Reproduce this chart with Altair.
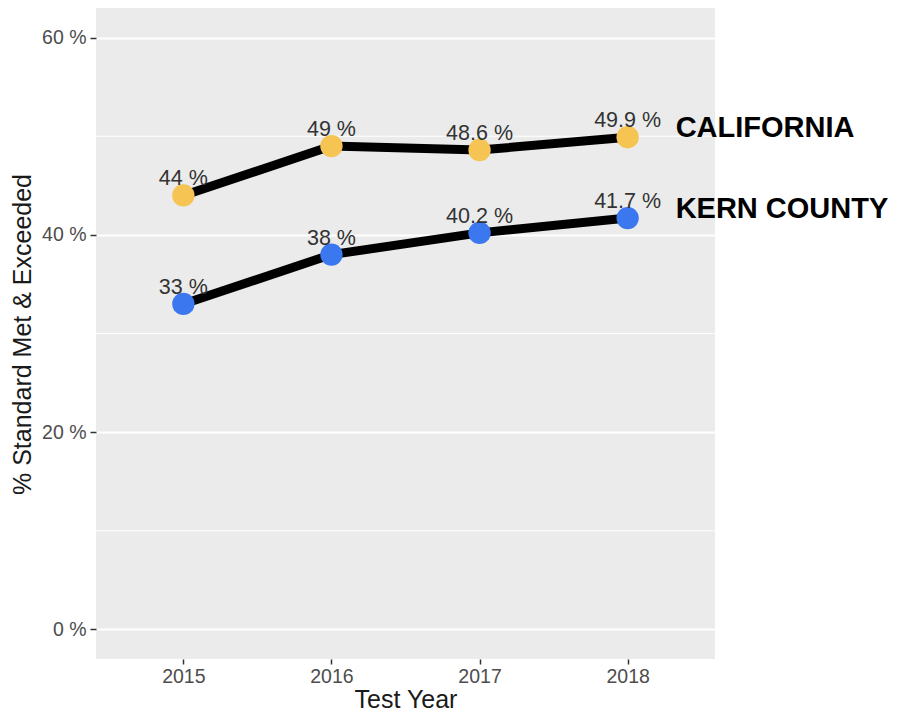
import altair as alt
import pandas as pd

years = [2015, 2016, 2017, 2018]
california = [44, 49, 48.6, 49.9]
kern = [33, 38, 40.2, 41.7]
regions = ["CALIFORNIA", "KERN COUNTY"]
region_colors = ["#F5C452", "#3B78F0"]
y_ticks = [0, 20, 40, 60]
y_minor = [10, 30, 50]

rows = []
for r, vals in zip(regions, [california, kern]):
    for yr, v in zip(years, vals):
        rows.append({"year": yr, "value": v, "region": r, "label": f"{v:g} %"})
df = pd.DataFrame(rows)
minor_df = pd.DataFrame({"v": y_minor})

FONT = "Liberation Sans"

xscale = alt.Scale(domain=[2014.41, 2018.59], nice=False)
yscale = alt.Scale(domain=[-3, 63], nice=False)

x_enc = alt.X("year:Q", scale=xscale, title="Test Year",
              axis=alt.Axis(values=years, format="d", grid=False, domain=False,
                            labelFontSize=19.5, labelColor="#4d4d4d", labelFont=FONT,
                            tickColor="#333333", tickSize=5, tickWidth=1.5, labelPadding=3,
                            titleFontSize=25, titleFont=FONT, titleFontWeight="normal",
                            titleColor="#1a1a1a", titleY=40, titleBaseline="middle"))
y_enc = alt.Y("value:Q", scale=yscale, title="% Standard Met & Exceeded",
              axis=alt.Axis(values=y_ticks, labelExpr="datum.value + ' %'", domain=False,
                            gridColor="white", gridWidth=2.2,
                            labelFontSize=19.5, labelColor="#4d4d4d", labelFont=FONT,
                            tickColor="#333333", tickSize=6, tickWidth=1.5, labelPadding=4,
                            titleFontSize=25, titleFont=FONT, titleFontWeight="normal",
                            titleColor="#1a1a1a", titleX=-74, titleY=326,
                            titleAngle=270, titleAlign="center", titleBaseline="middle"))

base = alt.Chart(df)

minor = alt.Chart(minor_df).mark_rule(color="white", strokeWidth=1.1).encode(
    y=alt.Y("v:Q", scale=yscale)
)

lines = base.mark_line(color="black", strokeWidth=9).encode(
    x=x_enc, y=y_enc, detail="region:N"
)

points = base.mark_point(filled=True, opacity=1, size=500).encode(
    x="year:Q", y="value:Q",
    color=alt.Color("region:N", scale=alt.Scale(domain=regions, range=region_colors), legend=None),
)

labels = base.mark_text(dy=-10, baseline="alphabetic", fontSize=21.5, font=FONT, color="#333333").encode(
    x="year:Q", y="value:Q", text="label:N"
)

region_labels = base.transform_filter(alt.datum.year == 2018).mark_text(
    align="left", baseline="middle", dx=48, dy=-9, fontSize=29, fontWeight="bold",
    font=FONT, color="black"
).encode(x="year:Q", y="value:Q", text="region:N")

chart = alt.layer(minor, lines, points, labels, region_labels).properties(
    width=619, height=651,
    autosize=alt.AutoSizeParams(type="none"),
    padding={"left": 88, "top": 0, "right": 176, "bottom": 56},
).configure_view(fill="#EBEBEB", strokeWidth=0)

chart.save("out.html", embed_options={"renderer": "svg", "actions": False})
